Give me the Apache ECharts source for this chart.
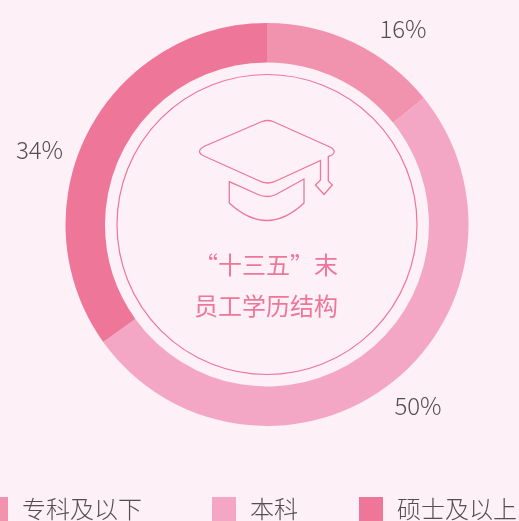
<!DOCTYPE html>
<html><head><meta charset="utf-8">
<style>html,body{margin:0;padding:0;background:#fdf0f7;overflow:hidden}#c{width:519px;height:521px}</style>
<script src="https://cdn.jsdelivr.net/npm/echarts@6/dist/echarts.min.js"></script></head>
<body><div id="c"></div>
<script>
const categories = ['专科及以下','本科','硕士及以上'];
const ringValues = [14.2, 50.9, 34.9];
const labelTexts = ['16%','50%','34%'];
const colors = ['#f193ae','#f4a7c4','#ee7698'];
const titleLines = ['“十三五”末','员工学历结构'];
const FONT = '"Noto Sans CJK SC","Noto Sans",sans-serif';
const labelPos = [[403,29],[418,406],[39.5,150]];
const legendLeft = [-16,212,359];
const capTop = 'M262,121.5 Q267.5,119.5 273,121.5 L331,147.5 Q337,151.5 332,155 L328.3,156.5 L328.3,181 L332.3,185 L324,194.5 L315.5,185 L320.5,180 L320.5,160.5 L277,180.5 Q267.7,185.5 258.5,180.5 L205,156.5 Q194,151.5 205,146 Z';
const capBrim = 'M229.3,181.7 L258,194.5 Q267.5,198.5 276,194.5 L304,179 L304,203 Q267,238 229.3,203 Z';
echarts.graphic.registerShape('capTop', echarts.graphic.extendPath(capTop, {}));
echarts.graphic.registerShape('capBrim', echarts.graphic.extendPath(capBrim, {}));
const chart = echarts.init(document.getElementById('c'));
chart.setOption({
  backgroundColor:'#fdf0f7',
  animation:false,
  legend: categories.map((n,i)=>({
    data:[n], left:legendLeft[i], top:497, orient:'horizontal', itemWidth:24, itemHeight:24, itemGap:0,
    icon:'rect', selectedMode:false, padding:0,
    textStyle:{color:'#544e50',fontSize:24,fontFamily:FONT,fontWeight:300,padding:[0,0,0,9]}
  })),
  series:[
    {type:'pie',center:[267,224.5],radius:[162,201.5],startAngle:90,clockwise:true,silent:true,
     data:categories.map((n,i)=>({name:n,value:ringValues[i],itemStyle:{color:colors[i]}})),
     label:{show:true,position:'outside',color:'#544e50',fontSize:24,fontFamily:FONT,fontWeight:300,overflow:'none',width:80,
       formatter:p=>labelTexts[p.dataIndex]},
     labelLine:{show:false},
     labelLayout:p=>({x:labelPos[p.dataIndex][0],y:labelPos[p.dataIndex][1],align:'center',verticalAlign:'middle',hideOverlap:false})
    }
  ],
  graphic:[
    {type:'circle',shape:{cx:267,cy:224.5,r:150},style:{fill:'none',stroke:'#ee7698',lineWidth:1.2}},
    {type:'capTop',style:{fill:'none',stroke:'#ee7698',lineWidth:1.3}},
    {type:'capBrim',style:{fill:'none',stroke:'#ee7698',lineWidth:1.3}},
    {type:'text',x:266,y:265,style:{text:titleLines[0],fill:'#ee7698',font:'24px '+FONT,align:'center',verticalAlign:'middle'}},
    {type:'text',x:266,y:306,style:{text:titleLines[1],fill:'#ee7698',font:'24px '+FONT,align:'center',verticalAlign:'middle'}}
  ]
});
</script></body></html>
